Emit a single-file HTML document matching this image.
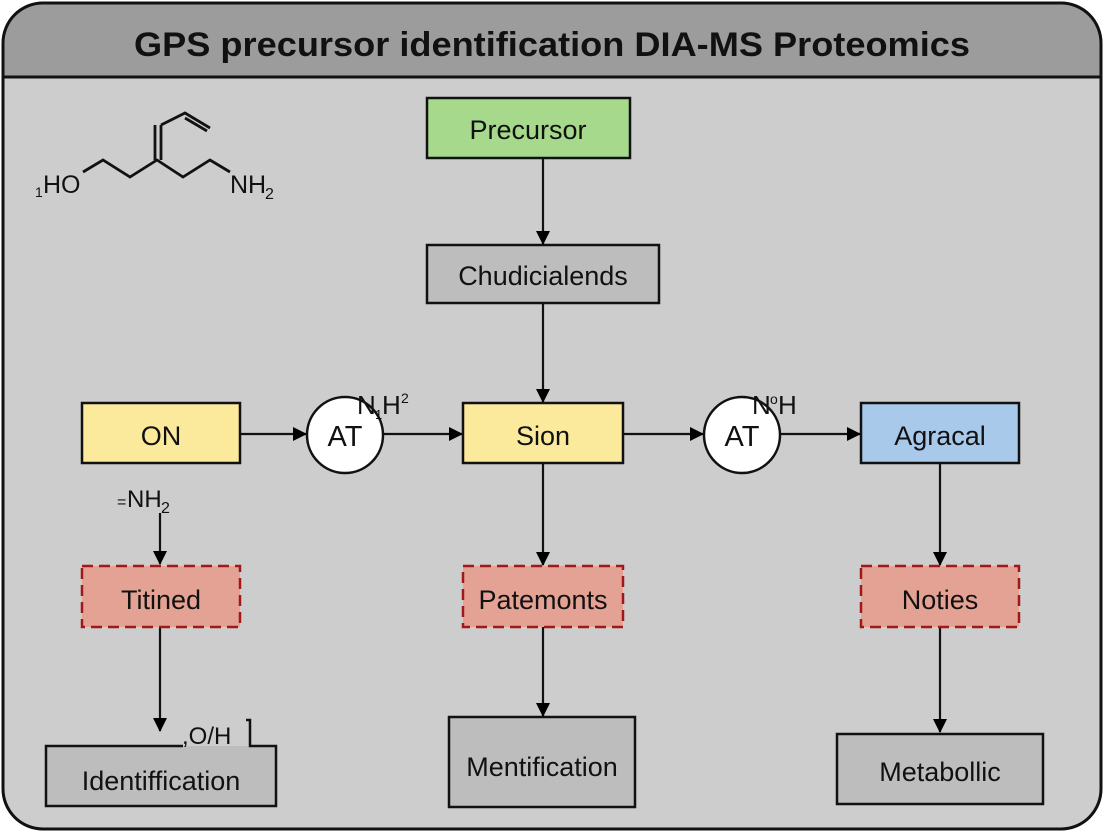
<!DOCTYPE html>
<html><head><meta charset="utf-8"><style>
html,body{margin:0;padding:0;background:#fff;}
svg{display:block;}
text{font-family:"Liberation Sans",sans-serif;fill:#111;}
</style></head><body>
<svg width="1104" height="832" viewBox="0 0 1104 832" xmlns="http://www.w3.org/2000/svg">
<defs>
<marker id="a" markerWidth="14" markerHeight="14" refX="13" refY="7" orient="auto" markerUnits="userSpaceOnUse">
<path d="M0,0 L14,7 L0,14 Z" fill="#000"/></marker>
<clipPath id="c"><rect x="3" y="3" width="1098" height="826" rx="40"/></clipPath>
</defs>
<rect x="0" y="0" width="1104" height="832" fill="#ffffff"/>
<g clip-path="url(#c)">
<rect x="3" y="3" width="1098" height="826" fill="#cdcdcd"/>
<rect x="3" y="3" width="1098" height="74" fill="#9c9c9c"/>
<line x1="3" y1="77" x2="1101" y2="77" stroke="#111" stroke-width="3"/>
</g>
<rect x="3" y="3" width="1098" height="826" rx="40" fill="none" stroke="#111" stroke-width="3"/>
<text x="552" y="56" text-anchor="middle" font-size="34" font-weight="bold" textLength="836" lengthAdjust="spacingAndGlyphs">GPS  precursor identification DIA-MS Proteomics</text>

<!-- molecule -->
<g fill="none" stroke="#111" stroke-width="2.8">
<path d="M83,172 L103,160 L130,177 L157,160 L183,177 L210,160 L230,172"/>
<path d="M155,160 L155,125 M161,160 L161,125"/>
<path d="M161,125 L185,113 L210,128 M185,118 L207,131"/>
</g>
<text x="35" y="197" font-size="14">1</text>
<text x="43" y="193" font-size="25">HO</text>
<text x="230" y="193" font-size="25">NH</text>
<text x="265" y="199" font-size="16">2</text>

<!-- connectors -->
<g stroke="#111" stroke-width="2.2" fill="none" marker-end="url(#a)">
<line x1="543" y1="158" x2="543" y2="244"/>
<line x1="543" y1="303" x2="543" y2="402"/>
<line x1="240" y1="434" x2="306" y2="434"/>
<line x1="384" y1="434" x2="462" y2="434"/>
<line x1="623" y1="434" x2="703" y2="434"/>
<line x1="781" y1="434" x2="860" y2="434"/>
<line x1="543" y1="463" x2="543" y2="565"/>
<line x1="543" y1="627" x2="543" y2="716"/>
<line x1="940" y1="463" x2="940" y2="565"/>
<line x1="940" y1="627" x2="940" y2="732"/>
<line x1="160" y1="513" x2="160" y2="564"/>
<line x1="160" y1="627" x2="160" y2="731"/>
</g>

<!-- boxes -->
<rect x="427" y="98" width="203" height="60" fill="#a6d98c" stroke="#111" stroke-width="2.5"/>
<text x="528" y="139" text-anchor="middle" font-size="27">Precursor</text>
<rect x="427" y="245" width="232" height="58" fill="#bdbdbd" stroke="#111" stroke-width="2.5"/>
<text x="543" y="285" text-anchor="middle" font-size="27">Chudicialends</text>

<rect x="82" y="403" width="158" height="60" fill="#fbe99c" stroke="#111" stroke-width="2.5"/>
<text x="161" y="445" text-anchor="middle" font-size="27">ON</text>
<rect x="463" y="403" width="160" height="60" fill="#fbe99c" stroke="#111" stroke-width="2.5"/>
<text x="543" y="445" text-anchor="middle" font-size="27">Sion</text>
<rect x="861" y="403" width="158" height="60" fill="#a9c9ea" stroke="#111" stroke-width="2.5"/>
<text x="940" y="445" text-anchor="middle" font-size="27">Agracal</text>

<circle cx="345" cy="435" r="38" fill="#fff" stroke="#111" stroke-width="2.5"/>
<text x="345" y="446" text-anchor="middle" font-size="29">AT</text>
<text x="357" y="414" font-size="26">N</text><text x="375" y="419" font-size="13">1</text><text x="382" y="414" font-size="26">H</text><text x="401" y="403" font-size="14">2</text>
<circle cx="742" cy="435" r="38" fill="#fff" stroke="#111" stroke-width="2.5"/>
<text x="742" y="446" text-anchor="middle" font-size="29">AT</text>
<text x="752" y="414" font-size="26">N</text><text x="770" y="404" font-size="14">o</text><text x="778" y="414" font-size="26">H</text>

<text x="117" y="507" font-size="16">=</text><text x="127" y="507" font-size="24">NH</text><text x="161" y="513" font-size="16">2</text>

<g fill="#e4a294" stroke="#a01818" stroke-width="2.5" stroke-dasharray="11,6">
<rect x="82" y="566" width="158" height="61"/>
<rect x="463" y="566" width="160" height="61"/>
<rect x="861" y="566" width="158" height="61"/>
</g>
<text x="161" y="609" text-anchor="middle" font-size="27">Titined</text>
<text x="543" y="609" text-anchor="middle" font-size="27">Patemonts</text>
<text x="940" y="609" text-anchor="middle" font-size="27">Noties</text>

<rect x="46" y="746" width="230" height="60" fill="#bdbdbd"/>
<path d="M183,746 L46,746 L46,806 L276,806 L276,746 L250,746 L250,720 L246,720" fill="none" stroke="#111" stroke-width="2.5"/>
<text x="182" y="744" font-size="24">,O/H</text>
<text x="161" y="790" text-anchor="middle" font-size="27">Identiffication</text>

<rect x="449" y="717" width="186" height="90" fill="#bdbdbd" stroke="#111" stroke-width="2.5"/>
<text x="542" y="776" text-anchor="middle" font-size="27">Mentification</text>
<rect x="837" y="734" width="206" height="70" fill="#bdbdbd" stroke="#111" stroke-width="2.5"/>
<text x="940" y="781" text-anchor="middle" font-size="27">Metabollic</text>
</svg>
</body></html>
